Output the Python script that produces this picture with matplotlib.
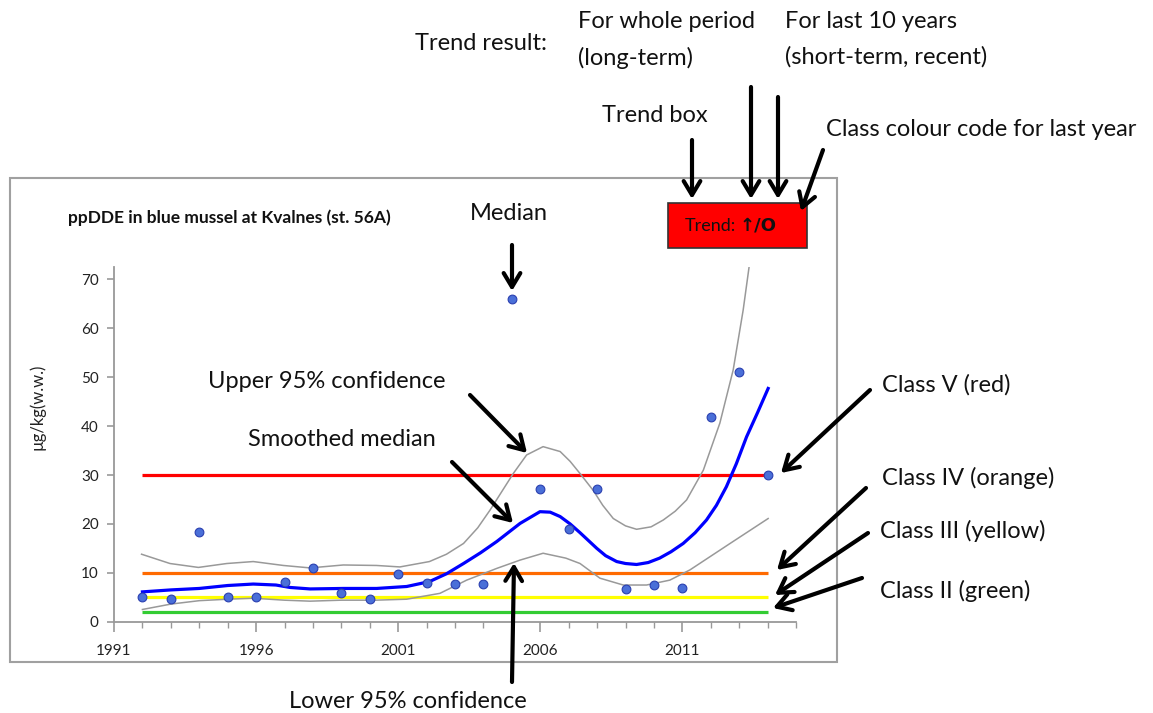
import matplotlib
matplotlib.use("Agg")
import matplotlib.pyplot as plt
from matplotlib.patches import Rectangle
from matplotlib.ticker import MultipleLocator, FixedLocator

plt.rcParams['font.family'] = ['Lato', 'DejaVu Sans']

# ---- data ----
years = list(range(1992, 2015))
median = [5.1, 4.6, 18.4, 5.1, 5.1, 8.05, 10.9, 5.8, 4.6, 9.8, 7.85, 7.65, 7.65,
          66.0, 27.1, 19.0, 27.1, 6.7, 7.6, 6.95, 41.9, 51.1, 29.9]

smooth_x = [1992, 1993, 1994, 1995, 1995.9, 1996.7, 1997.2, 1997.9, 1999.07, 2000.24,
            2001.3, 2002.1, 2002.7, 2003.3, 2003.9, 2004.47, 2005.29, 2005.99, 2006.35,
            2006.7, 2007.05, 2007.4, 2007.99, 2008.3, 2008.69, 2009.0, 2009.39, 2009.8,
            2010.2, 2010.6, 2011.03, 2011.45, 2011.85, 2012.2, 2012.55, 2012.9, 2013.26,
            2013.65, 2014.02]
smooth_y = [6.1, 6.5, 6.8, 7.4, 7.7, 7.5, 7.0, 6.7, 6.8, 6.8,
            7.2, 8.2, 9.8, 11.9, 14.1, 16.4, 20.1, 22.5, 22.4,
            21.5, 20.0, 18.2, 15.0, 13.5, 12.3, 11.9, 11.7, 12.1,
            13.0, 14.3, 16.0, 18.2, 20.8, 23.8, 27.6, 32.3, 37.8,
            42.8, 47.7]

upper_x = [1991.97, 1992.97, 1993.97, 1994.97, 1995.9, 1996.96, 1997.9, 1999.07, 2000.24,
           2001.06, 2002.1, 2002.7, 2003.3, 2003.8, 2004.23, 2005.05, 2005.52, 2006.1,
           2006.7, 2007.05, 2007.4, 2007.87, 2008.2, 2008.57, 2009.0, 2009.39, 2009.9,
           2010.33, 2010.75, 2011.15, 2011.74, 2012.32, 2012.79, 2013.14, 2013.35]
upper_y = [13.8, 11.9, 11.1, 11.9, 12.3, 11.5, 11.0, 11.6, 11.5,
           11.2, 12.3, 13.8, 16.0, 19.2, 22.8, 30.3, 34.1, 35.8,
           34.8, 32.8, 30.3, 26.8, 23.8, 21.1, 19.6, 18.9, 19.4,
           20.8, 22.6, 24.9, 31.0, 40.6, 51.5, 63.7, 72.6]

lower_x = [1992, 1993, 1994, 1995, 1995.9, 1997, 1997.9, 1999, 2000.2, 2001.3,
           2002.47, 2003.41, 2004.47, 2005.29, 2006.1, 2006.9, 2007.4, 2008.1,
           2008.92, 2009.74, 2010.56, 2011.27, 2012.68, 2014.02]
lower_y = [2.5, 3.6, 4.3, 4.6, 4.8, 4.4, 4.2, 4.4, 4.4, 4.6,
           5.8, 8.5, 10.9, 12.6, 14.0, 13.0, 11.9, 8.9,
           7.5, 7.5, 8.5, 10.6, 16.0, 21.1]

class_limits = [30, 10, 5, 2]
class_colors = ['#ff0000', '#ff6a00', '#ffff00', '#33cc33']
class_span = [1992, 2014]

xtick_years = [1991, 1996, 2001, 2006, 2011]
title = "ppDDE in blue mussel at Kvalnes (st. 56A)"
ylabel = "µg/kg(w.w.)"

# ---- figure ----
W, H = 1153, 713
fig = plt.figure(figsize=(W / 100, H / 100), dpi=100)

ov_back = fig.add_axes([0, 0, 1, 1], zorder=0)
ov_back.set_xlim(0, W); ov_back.set_ylim(H, 0); ov_back.axis('off')
ov_back.add_patch(Rectangle((10, 178), 827, 484, fill=False, edgecolor='#a0a0a0', lw=1.5))

ax_l, ax_r, ax_b, ax_t = 114, 796, 621.7, 266.7
ax = fig.add_axes([ax_l / W, (H - ax_b) / H, (ax_r - ax_l) / W, (ax_b - ax_t) / H], zorder=1)
ax.patch.set_alpha(0)

for lim, col in zip(class_limits, class_colors):
    ax.plot(class_span, [lim, lim], color=col, lw=2.3, solid_capstyle='butt', zorder=2)

ax.plot(upper_x, upper_y, color='#999999', lw=1.1, zorder=3)
ax.plot(lower_x, lower_y, color='#999999', lw=1.1, zorder=3)
ax.plot(smooth_x, smooth_y, color='#0000ff', lw=2.3, zorder=4)
ax.plot(years, median, 'o', ms=6.3, mfc='#4a6fd8', mec='#2a3fb0', mew=0.8, zorder=5, clip_on=False)

ax.set_xlim(1991, 2015)
ax.set_ylim(0, 72.6)
ax.xaxis.set_major_locator(FixedLocator(xtick_years))
ax.xaxis.set_minor_locator(MultipleLocator(1))
ax.yaxis.set_major_locator(MultipleLocator(10))
for s in ['top', 'right']:
    ax.spines[s].set_visible(False)
for s in ['left', 'bottom']:
    ax.spines[s].set_color('#999999')
    ax.spines[s].set_linewidth(1.3)
ax.tick_params(axis='both', which='major', color='#999999', width=1.2, length=6,
               labelsize=11, labelcolor='#222222')
ax.tick_params(axis='x', which='major', length=7, pad=9)
ax.tick_params(axis='x', which='minor', color='#999999', width=1, length=4)
ax.tick_params(axis='y', which='major', length=5, pad=6)

fig.text(37 / W, 1 - 407 / H, ylabel, rotation=90, ha='center', va='center',
         fontsize=12, color='#222222')

# ---- annotation overlay ----
ov = fig.add_axes([0, 0, 1, 1], zorder=5)
ov.set_xlim(0, W); ov.set_ylim(H, 0); ov.axis('off'); ov.patch.set_alpha(0)

ov.text(68, 218, title, fontsize=12.5, fontweight='bold', va='center', ha='left', color='#111111')

ov.add_patch(Rectangle((668, 203), 139, 45, facecolor='#ff0000', edgecolor='#333333', lw=1.2))
ov.text(685, 226, "Trend:", fontsize=13, va='center', ha='left', color='#111111')
ov.text(740, 226, "↑/O", fontsize=13, fontweight='bold', va='center', ha='left', color='#111111',
        family=['DejaVu Sans'])

fs = 17
labels = [
    (415, 44, "Trend result:"),
    (578, 22, "For whole period"),
    (578, 58, "(long-term)"),
    (785, 22, "For last 10 years"),
    (785, 57, "(short-term, recent)"),
    (602, 116, "Trend box"),
    (826, 130, "Class colour code for last year"),
    (470, 213, "Median"),
    (208, 382, "Upper 95% confidence"),
    (248, 440, "Smoothed median"),
    (289, 702, "Lower 95% confidence"),
    (882, 385, "Class V (red)"),
    (882, 478, "Class IV (orange)"),
    (880, 531, "Class III (yellow)"),
    (880, 591, "Class II (green)"),
]
for x, y, t in labels:
    ov.text(x, y, t, fontsize=fs, va='center', ha='left', color='#111111')

arrows = [
    ((692, 140), (692, 199)),
    ((751, 87), (751, 199)),
    ((778, 97), (778, 199)),
    ((823, 150), (801, 211)),
    ((512, 245), (512, 291)),
    ((470, 395), (527, 453)),
    ((452, 462), (513, 523)),
    ((512, 682), (514, 563)),
    ((870, 390), (781, 473)),
    ((866, 488), (777, 570)),
    ((868, 533), (775, 595)),
    ((862, 578), (773, 608)),
]
for tail, head in arrows:
    ov.annotate('', xy=head, xytext=tail,
                arrowprops=dict(arrowstyle='->,head_length=1.0,head_width=0.6',
                                lw=3, color='black', shrinkA=0, shrinkB=0))

fig.savefig('out.png', dpi=100, facecolor='white')
